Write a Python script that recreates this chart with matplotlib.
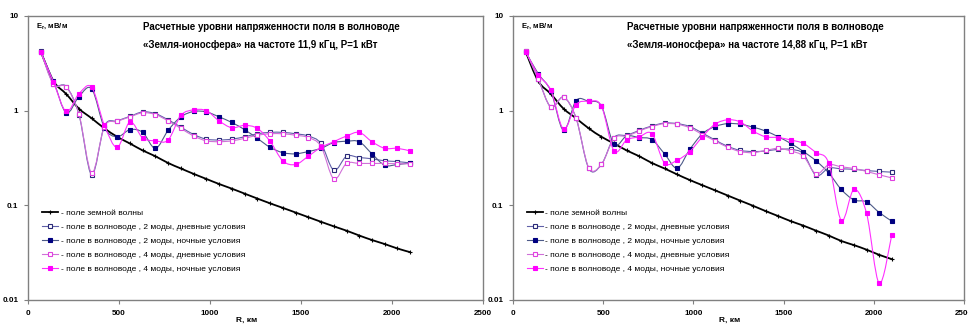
import numpy as np
import matplotlib.pyplot as plt
from matplotlib.path import Path
from matplotlib.patches import PathPatch
from matplotlib.lines import Line2D

plt.rcParams['font.family'] = ['Liberation Sans', 'DejaVu Sans']

# distance, km
dist = [70, 140, 210, 280, 350, 420, 490, 560, 630, 700,
        770, 840, 910, 980, 1050, 1120, 1190, 1260, 1330, 1400,
        1470, 1540, 1610, 1680, 1750, 1820, 1890, 1960, 2030, 2100]

# 11,9 kHz
ground_119 = [4.2, 2.05, 1.5, 1.05, 0.83, 0.65, 0.53, 0.45, 0.38, 0.33,
              0.28, 0.245, 0.215, 0.19, 0.168, 0.15, 0.133, 0.118, 0.105, 0.094,
              0.084, 0.075, 0.067, 0.06, 0.054, 0.048, 0.043, 0.039, 0.035, 0.032]
m2_day_119 = [4.3, 1.92, 1.80, 0.91, 0.21, 0.69, 0.78, 0.87, 0.97, 0.93,
              0.80, 0.67, 0.56, 0.50, 0.49, 0.50, 0.53, 0.57, 0.59, 0.59,
              0.57, 0.54, 0.45, 0.235, 0.33, 0.32, 0.31, 0.295, 0.29, 0.28]
m2_night_119 = [4.2, 2.05, 0.95, 1.41, 1.70, 0.66, 0.53, 0.63, 0.59, 0.40,
                0.62, 0.86, 0.98, 0.97, 0.86, 0.75, 0.63, 0.51, 0.41, 0.36,
                0.35, 0.37, 0.40, 0.46, 0.475, 0.47, 0.35, 0.265, 0.27, 0.28]
m4_day_119 = [4.2, 1.9, 1.78, 0.92, 0.22, 0.68, 0.77, 0.86, 0.95, 0.91,
              0.78, 0.65, 0.54, 0.48, 0.47, 0.48, 0.51, 0.55, 0.57, 0.57,
              0.55, 0.52, 0.42, 0.19, 0.277, 0.277, 0.277, 0.277, 0.275, 0.275]
m4_night_119 = [4.2, 2.0, 0.98, 1.51, 1.77, 0.70, 0.41, 0.76, 0.515, 0.48,
                0.49, 0.89, 1.02, 1.0, 0.78, 0.66, 0.70, 0.65, 0.475, 0.295,
                0.27, 0.33, 0.41, 0.47, 0.54, 0.59, 0.47, 0.40, 0.40, 0.375]

# 14,88 kHz
ground_1488 = [4.2, 2.05, 1.5, 1.05, 0.83, 0.65, 0.53, 0.45, 0.38, 0.33,
               0.28, 0.245, 0.212, 0.185, 0.163, 0.144, 0.127, 0.112, 0.099, 0.087,
               0.077, 0.068, 0.061, 0.054, 0.048, 0.042, 0.038, 0.034, 0.030, 0.027]
m2_day_1488 = [4.3, 2.15, 1.09, 1.39, 0.83, 0.245, 0.27, 0.52, 0.55, 0.62,
               0.69, 0.74, 0.73, 0.68, 0.58, 0.49, 0.42, 0.38, 0.37, 0.375,
               0.39, 0.39, 0.35, 0.207, 0.247, 0.243, 0.24, 0.233, 0.228, 0.224]
m2_night_1488 = [4.2, 2.45, 1.61, 0.62, 1.28, 1.25, 1.12, 0.44, 0.54, 0.52,
                 0.495, 0.35, 0.247, 0.39, 0.57, 0.68, 0.73, 0.72, 0.67, 0.61,
                 0.53, 0.45, 0.37, 0.295, 0.22, 0.147, 0.114, 0.109, 0.084, 0.068]
m4_day_1488 = [4.3, 2.15, 1.09, 1.39, 0.83, 0.25, 0.27, 0.51, 0.54, 0.61,
               0.68, 0.73, 0.72, 0.66, 0.56, 0.48, 0.41, 0.37, 0.36, 0.38,
               0.40, 0.375, 0.33, 0.215, 0.268, 0.255, 0.245, 0.228, 0.21, 0.195]
m4_night_1488 = [4.2, 2.4, 1.64, 0.64, 1.16, 1.25, 1.12, 0.375, 0.49, 0.53,
                 0.57, 0.28, 0.30, 0.37, 0.53, 0.72, 0.80, 0.76, 0.61, 0.53,
                 0.52, 0.49, 0.45, 0.36, 0.28, 0.069, 0.147, 0.082, 0.015, 0.049]

labels = ['- поле земной волны',
          '- поле в волноводе , 2 моды, дневные условия',
          '- поле в волноводе , 2 моды, ночные условия',
          '- поле в волноводе , 4 моды, дневные условия',
          '- поле в волноводе , 4 моды, ночные условия']

titles = ['Расчетные уровни напряженности поля в волноводе\n'
          '«Земля-ионосфера» на частоте 11,9 кГц, P=1 кВт',
          'Расчетные уровни напряженности поля в волноводе\n'
          '«Земля-ионосфера» на частоте 14,88 кГц, P=1 кВт']

# line colour, marker, marker face, marker edge
styles = [('black', '+', 'black', 'black'),
          ('#6060a8', 's', 'white', '#2a2a78'),
          ('#4c5a88', 's', '#000080', '#000080'),
          ('#d070d8', 's', 'white', '#e040e0'),
          ('#ff30ff', 's', '#ff00ff', '#ff00ff')]


def smooth_path(xs, ys):
    # excel-like smoothed line (catmull-rom in x / log y space)
    lx = np.array(xs, float)
    ly = np.log10(ys)
    n = len(lx)
    verts = [(lx[0], ly[0])]
    codes = [Path.MOVETO]
    for i in range(n - 1):
        a = max(i - 1, 0)
        d = min(i + 2, n - 1)
        c1 = (lx[i] + (lx[i + 1] - lx[a]) / 6, ly[i] + (ly[i + 1] - ly[a]) / 6)
        c2 = (lx[i + 1] - (lx[d] - lx[i]) / 6, ly[i + 1] - (ly[d] - ly[i]) / 6)
        verts += [c1, c2, (lx[i + 1], ly[i + 1])]
        codes += [Path.CURVE4] * 3
    verts = [(vx, 10 ** vy) for vx, vy in verts]
    return Path(verts, codes)


fig = plt.figure(figsize=(9.68, 3.24), dpi=100)
ax1 = fig.add_axes([28 / 968, 24 / 324, 455 / 968, 284 / 324])
ax2 = fig.add_axes([513 / 968, 24 / 324, 451 / 968, 284 / 324])

panels = [(ax1, [ground_119, m2_day_119, m2_night_119, m4_day_119, m4_night_119], titles[0]),
          (ax2, [ground_1488, m2_day_1488, m2_night_1488, m4_day_1488, m4_night_1488], titles[1])]

for ax, series, title in panels:
    ax.set_yscale('log')
    handles = []
    for k, (vals, st) in enumerate(zip(series, styles)):
        lc, mk, mfc, mec = st
        lw = 1.3 if k == 0 else 0.8
        ms = 3 if k == 0 else 3.4
        ax.add_patch(PathPatch(smooth_path(dist, vals), fill=False,
                               edgecolor=lc, lw=lw, zorder=2 + k))
        ax.plot(dist, vals, ls='none', marker=mk, ms=ms, mfc=mfc, mec=mec,
                mew=0.8, zorder=2.5 + k)
        handles.append(Line2D([], [], color=lc, lw=lw, marker=mk, ms=ms,
                              mfc=mfc, mec=mec, mew=0.8))

    ax.set_xlim(0, 2500)
    ax.set_ylim(0.01, 10)
    ax.set_xticks([0, 500, 1000, 1500, 2000, 2500])
    ax.set_xticklabels(['0', '500', '1000', '1500', '2000', '2500'])
    ax.set_yticks([0.01, 0.1, 1, 10])
    ax.set_yticklabels(['0.01', '0.1', '1', '10'])
    ax.minorticks_off()
    ax.tick_params(axis='both', labelsize=5.8, length=3, color='#808080',
                   width=0.8, pad=4)
    for lab in ax.get_xticklabels() + ax.get_yticklabels():
        lab.set_fontweight('bold')
    for sp in ax.spines.values():
        sp.set_color('#808080')
        sp.set_linewidth(1)

    ax.text(0.253, 0.93, title, transform=ax.transAxes, fontsize=7,
            fontweight='bold', ha='left', va='center', linespacing=2.0)
    ax.text(0.018, 0.965, r'E$_\mathregular{r}$, мВ/м', transform=ax.transAxes,
            fontsize=5.5, fontweight='bold', ha='left', va='center')
    ax.set_xlabel('R, км', fontsize=6, fontweight='bold')
    ax.xaxis.set_label_coords(0.48, -0.058)

    ax.legend(handles, labels, loc='upper left', bbox_to_anchor=(0.022, 0.335),
              frameon=False, fontsize=6, handlelength=1.9, handletextpad=0.3,
              labelspacing=0.75, borderpad=0)

fig.savefig('out.png', dpi=100)
